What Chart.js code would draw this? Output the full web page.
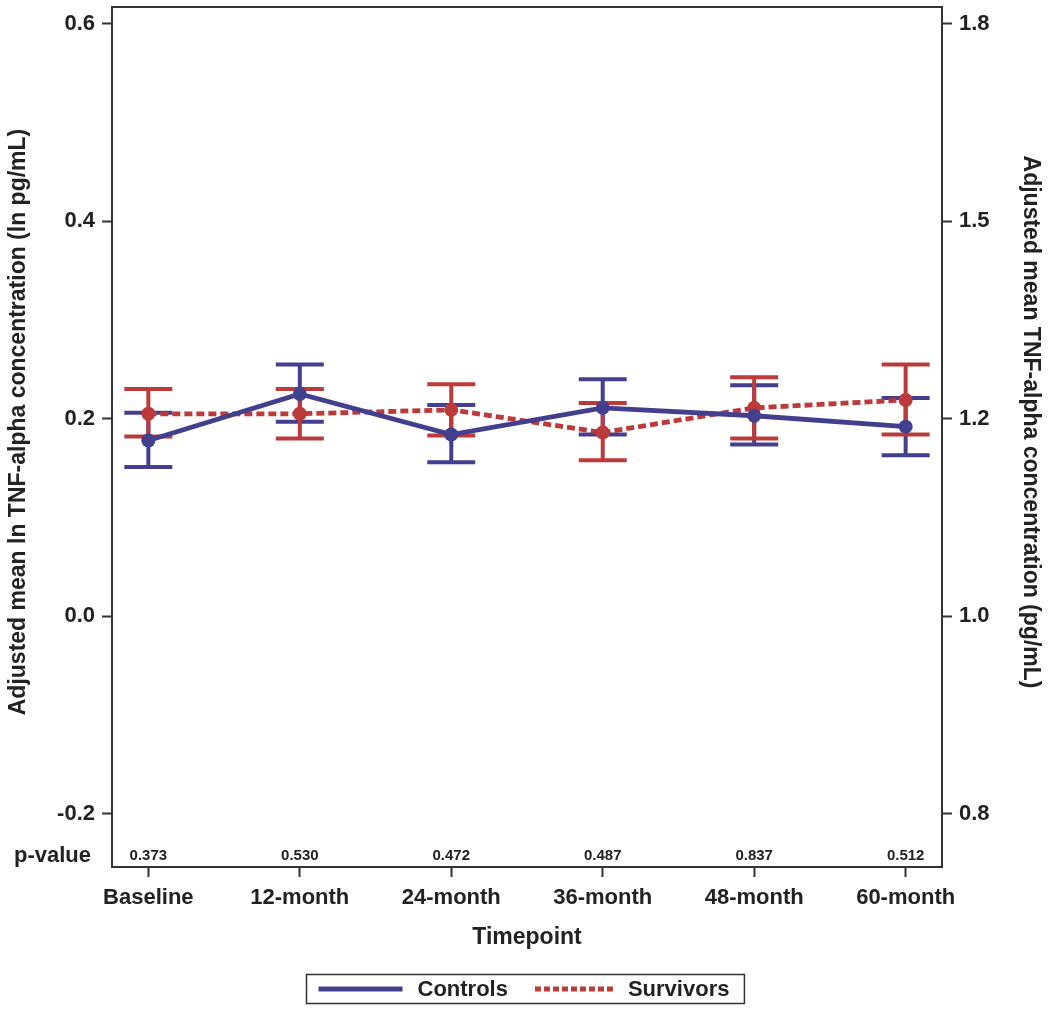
<!DOCTYPE html>
<html>
<head>
<meta charset="utf-8">
<title>Adjusted mean TNF-alpha concentration by timepoint</title>
<script src="https://cdn.jsdelivr.net/npm/chart.js@4.4.1/dist/chart.umd.min.js"></script>
<style>
  html, body { margin: 0; padding: 0; background: #fff; }
  #wrap { width: 1050px; height: 1009px; position: relative; }
</style>
</head>
<body>
<div id="wrap"><canvas id="tnf-chart"></canvas></div>
<script>
// data (ln pg/mL)
const timepoints = ['Baseline', '12-month', '24-month', '36-month', '48-month', '60-month'];
const pValues = ['0.373', '0.530', '0.472', '0.487', '0.837', '0.512'];

const controlsMean  = [0.178, 0.225, 0.184, 0.211, 0.203, 0.192];
const controlsLower = [0.151, 0.197, 0.156, 0.184, 0.174, 0.163];
const controlsUpper = [0.206, 0.255, 0.214, 0.240, 0.234, 0.221];

const survivorsMean  = [0.205, 0.205, 0.209, 0.186, 0.211, 0.219];
const survivorsLower = [0.182, 0.180, 0.183, 0.158, 0.180, 0.184];
const survivorsUpper = [0.230, 0.230, 0.235, 0.216, 0.242, 0.255];

const leftTicks = [-0.2, 0.0, 0.2, 0.4, 0.6];
const rightTickLabels = ['0.8', '1.0', '1.2', '1.5', '1.8'];

const leftTitle = 'Adjusted mean ln TNF-alpha concentration (ln pg/mL)';
const rightTitle = 'Adjusted mean TNF-alpha concentration (pg/mL)';

const BLUE = '#433F8F';
const RED = '#BC3A3A';
const INK = '#222';
const FONT = "'Liberation Sans', Arial, Helvetica, sans-serif";

Chart.defaults.font.family = FONT;
Chart.defaults.color = INK;

const Y_MIN = -0.254, Y_MAX = 0.617;

function toPoints(vals) { return vals.map((y, i) => ({ x: i, y })); }

// keep tick labels from pushing the plot frame inwards
function noPad(s) { s.paddingTop = 0; s.paddingBottom = 0; s.paddingLeft = 0; s.paddingRight = 0; }

// error bars, p-value row, frame, side titles and boxed legend
const extras = {
  id: 'extras',
  beforeDatasetsDraw(chart) {
    const ctx = chart.ctx, x = chart.scales.x, y = chart.scales.y;
    const groups = [
      { lo: controlsLower, hi: controlsUpper, color: BLUE },
      { lo: survivorsLower, hi: survivorsUpper, color: RED }
    ];
    ctx.save();
    ctx.lineWidth = 4;
    groups.forEach(g => {
      ctx.strokeStyle = g.color;
      g.lo.forEach((lo, i) => {
        const px = x.getPixelForValue(i);
        const yl = y.getPixelForValue(lo), yh = y.getPixelForValue(g.hi[i]);
        ctx.beginPath();
        ctx.moveTo(px, yl); ctx.lineTo(px, yh);
        ctx.moveTo(px - 24, yl); ctx.lineTo(px + 24, yl);
        ctx.moveTo(px - 24, yh); ctx.lineTo(px + 24, yh);
        ctx.stroke();
      });
    });
    ctx.restore();
  },
  afterDraw(chart) {
    const ctx = chart.ctx, a = chart.chartArea, x = chart.scales.x;
    ctx.save();
    // frame
    ctx.strokeStyle = '#333';
    ctx.lineWidth = 2;
    ctx.strokeRect(a.left, a.top, a.right - a.left, a.bottom - a.top);

    // p-value row
    ctx.fillStyle = INK;
    ctx.textBaseline = 'middle';
    ctx.textAlign = 'center';
    ctx.font = 'bold 15px ' + FONT;
    pValues.forEach((p, i) => ctx.fillText(p, x.getPixelForValue(i), a.bottom - 11));
    ctx.textAlign = 'right';
    ctx.font = 'bold 22px ' + FONT;
    ctx.fillText('p-value', a.left - 21, a.bottom - 11);

    // side titles, centred on the value region above the p-value row
    const midY = (a.top + a.bottom) / 2 - 15;
    ctx.font = 'bold 23px ' + FONT;
    ctx.textAlign = 'center';
    ctx.save();
    ctx.translate(19, midY);
    ctx.rotate(-Math.PI / 2);
    ctx.fillText(leftTitle, 0, 0);
    ctx.restore();
    ctx.save();
    ctx.translate(chart.width - 20, midY);
    ctx.rotate(Math.PI / 2);
    ctx.fillText(rightTitle, 0, 0);
    ctx.restore();

    // legend
    ctx.font = 'bold 22px ' + FONT;
    const items = chart.data.datasets.map(ds => ({ label: ds.label, color: ds.borderColor, dash: ds.borderDash || [] }));
    const sampleW = [84, 78], padL = 12, gapT = 15, gapItem = 27, padR = 15;
    let w = padL;
    items.forEach((it, i) => {
      it.tw = ctx.measureText(it.label).width;
      w += sampleW[i] + gapT + it.tw + (i < items.length - 1 ? gapItem : 0);
    });
    w += padR;
    const bx = Math.round(chart.width / 2 - w / 2) + 0.5, by = 974.5, bh = 29;
    ctx.strokeStyle = '#333';
    ctx.lineWidth = 1.5;
    ctx.strokeRect(bx, by, w, bh);
    let cx = bx + padL;
    const cy = by + bh / 2;
    items.forEach((it, i) => {
      ctx.strokeStyle = it.color;
      ctx.lineWidth = 5;
      ctx.setLineDash(it.dash.length ? [6, 3] : []);
      ctx.beginPath();
      ctx.moveTo(cx, cy); ctx.lineTo(cx + sampleW[i], cy);
      ctx.stroke();
      ctx.setLineDash([]);
      cx += sampleW[i] + gapT;
      ctx.textAlign = 'left';
      ctx.fillStyle = INK;
      ctx.fillText(it.label, cx, cy + 1);
      cx += it.tw + gapItem;
    });
    ctx.restore();
  }
};

const tickGrid = { display: true, drawOnChartArea: false, drawTicks: true, tickLength: 10, tickColor: '#333', tickWidth: 2 };

new Chart(document.getElementById('tnf-chart'), {
  type: 'line',
  data: {
    datasets: [
      {
        label: 'Controls',
        data: toPoints(controlsMean),
        borderColor: BLUE, backgroundColor: BLUE,
        borderWidth: 4.8,
        pointRadius: 7, pointBackgroundColor: BLUE, pointBorderWidth: 0,
        tension: 0, yAxisID: 'y'
      },
      {
        label: 'Survivors',
        data: toPoints(survivorsMean),
        borderColor: RED, backgroundColor: RED,
        borderWidth: 4.8, borderDash: [8, 4],
        pointRadius: 7, pointBackgroundColor: RED, pointBorderWidth: 0,
        tension: 0, yAxisID: 'y'
      }
    ]
  },
  options: {
    responsive: true,
    maintainAspectRatio: false,
    animation: false,
    layout: { padding: { top: 6, bottom: 57, left: 0, right: 0 } },
    plugins: { legend: { display: false }, tooltip: { enabled: false } },
    scales: {
      x: {
        type: 'linear', min: -0.24, max: 5.24,
        afterBuildTicks: s => { s.ticks = timepoints.map((_, i) => ({ value: i })); },
        afterFit: s => { s.height = 85; noPad(s); },
        grid: tickGrid,
        border: { display: false },
        ticks: { callback: v => timepoints[v], font: { size: 22, weight: 'bold' }, color: INK, padding: 8, maxRotation: 0, autoSkip: false },
        title: { display: true, text: 'Timepoint', font: { size: 23, weight: 'bold' }, color: INK, padding: { top: 4, bottom: 1 } }
      },
      y: {
        type: 'linear', position: 'left', min: Y_MIN, max: Y_MAX,
        afterBuildTicks: s => { s.ticks = leftTicks.map(v => ({ value: v })); },
        afterFit: s => { s.width = 112; noPad(s); },
        grid: tickGrid,
        border: { display: false },
        ticks: { callback: v => v.toFixed(1), font: { size: 22, weight: 'bold' }, color: INK, padding: 7 }
      },
      y2: {
        type: 'linear', position: 'right', min: Y_MIN, max: Y_MAX,
        afterBuildTicks: s => { s.ticks = leftTicks.map(v => ({ value: v })); },
        afterFit: s => { s.width = 108; noPad(s); },
        grid: tickGrid,
        border: { display: false },
        ticks: { callback: (v, i) => rightTickLabels[i], font: { size: 22, weight: 'bold' }, color: INK, padding: 7 }
      }
    }
  },
  plugins: [extras]
});
</script>
</body>
</html>
